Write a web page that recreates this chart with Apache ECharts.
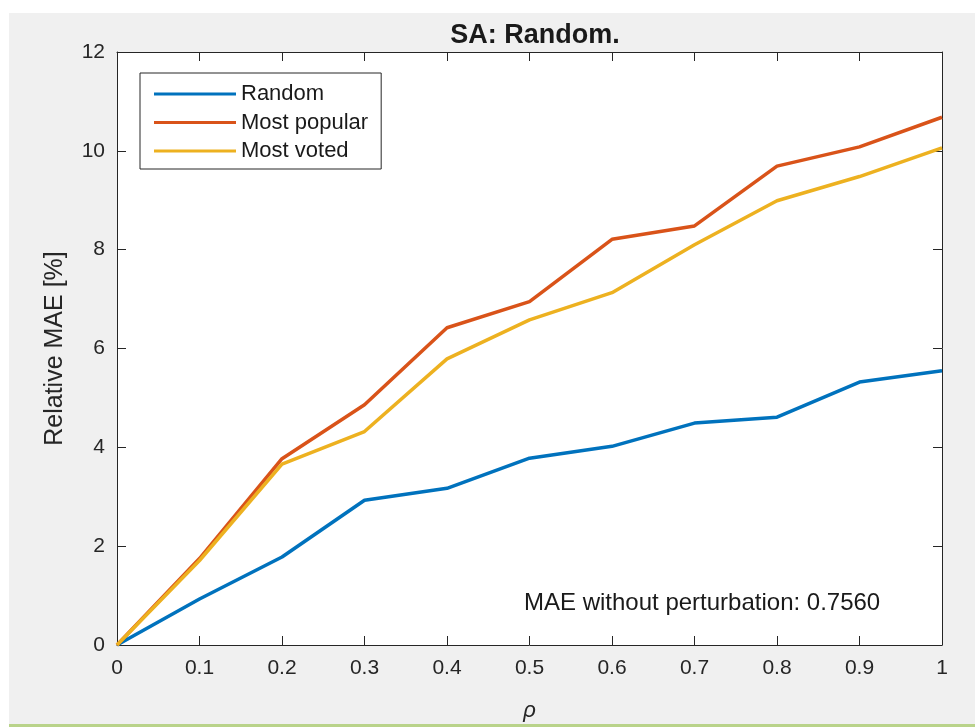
<!DOCTYPE html>
<html>
<head>
<meta charset="utf-8">
<script src="https://cdn.jsdelivr.net/npm/echarts@6/dist/echarts.min.js"></script>
<style>
  html, body { margin: 0; padding: 0; background: #ffffff; }
  #chart { width: 975px; height: 727px; }
</style>
</head>
<body>
<div id="chart"></div>
<script>
// Perturbation ratio rho
const rho = [0, 0.1, 0.2, 0.3, 0.4, 0.5, 0.6, 0.7, 0.8, 0.9, 1.0];

// Relative MAE [%] for each attack strategy
const randomMAE      = [0, 0.93, 1.78, 2.93, 3.17, 3.78, 4.02, 4.49, 4.61, 5.32, 5.55];
const mostPopularMAE = [0, 1.75, 3.77, 4.86, 6.42, 6.95, 8.21, 8.48, 9.69, 10.08, 10.68];
const mostVotedMAE   = [0, 1.71, 3.66, 4.32, 5.79, 6.58, 7.13, 8.10, 8.99, 9.48, 10.06];

const seriesNames = ['Random', 'Most popular', 'Most voted'];
const seriesColors = ['#0072BD', '#D95319', '#EDB120'];
const xTickLabels = ['0', '0.1', '0.2', '0.3', '0.4', '0.5', '0.6', '0.7', '0.8', '0.9', '1'];
const yTickLabels = ['0', '2', '4', '6', '8', '10', '12'];

const baselineNote = 'MAE without perturbation: 0.7560';

const pairs = (ys) => rho.map((x, i) => [x, ys[i]]);
const FONT = '"Liberation Sans", Arial, sans-serif';
const INK = '#262626';

const chart = echarts.init(document.getElementById('chart'), null, { renderer: 'canvas' });

// Box-style axes: every side gets a line and inward ticks
const axisCommon = {
  axisLine: { show: true, onZero: false, lineStyle: { color: INK, width: 1 } },
  axisTick: { show: true, inside: true, length: 9, lineStyle: { color: INK, width: 1 } },
  splitLine: { show: false }
};

chart.setOption({
  backgroundColor: 'transparent',
  animation: false,
  graphic: [
    { type: 'rect', z: -10, shape: { x: 9, y: 13, width: 966, height: 712 }, style: { fill: '#f0f0f0' } },
    { type: 'rect', z: -10, shape: { x: 9, y: 724, width: 966, height: 3 }, style: { fill: '#b9d38a' } },
    {
      type: 'text', z: 10, left: 524, top: 591,
      style: { text: baselineNote, font: '24px ' + FONT, fill: '#1a1a1a' }
    }
  ],
  title: {
    text: 'SA: Random.',
    left: 530, top: 17, textAlign: 'center',
    textStyle: { fontFamily: FONT, fontSize: 27, fontWeight: 'bold', color: '#1a1a1a' }
  },
  legend: {
    data: seriesNames,
    orient: 'vertical',
    left: 140, top: 73,
    padding: [9, 13, 6, 14],
    itemWidth: 82, itemHeight: 3,
    itemGap: 4.5,
    icon: 'rect',
    backgroundColor: '#ffffff',
    borderColor: INK, borderWidth: 1,
    textStyle: { fontFamily: FONT, fontSize: 22, color: '#1a1a1a', lineHeight: 24 }
  },
  grid: {
    left: 117, right: 33, top: 52, bottom: 80, containLabel: false,
    show: true, backgroundColor: '#ffffff', borderWidth: 0
  },
  xAxis: [
    Object.assign({}, axisCommon, {
      type: 'value', min: 0, max: 1, interval: 0.1, position: 'bottom',
      name: 'ρ', nameLocation: 'middle', nameGap: 55,
      nameTextStyle: { fontFamily: FONT, fontSize: 22, fontStyle: 'italic', color: INK },
      axisLabel: {
        fontFamily: FONT, fontSize: 21, color: INK, margin: 13,
        formatter: (v) => xTickLabels[Math.round(v * 10)]
      }
    }),
    Object.assign({}, axisCommon, {
      type: 'value', min: 0, max: 1, interval: 0.1, position: 'top',
      axisLabel: { show: false }
    })
  ],
  yAxis: [
    Object.assign({}, axisCommon, {
      type: 'value', min: 0, max: 12, interval: 2, position: 'left',
      name: 'Relative MAE [%]', nameLocation: 'middle', nameGap: 49,
      nameTextStyle: { fontFamily: FONT, fontSize: 25, color: INK },
      axisLabel: {
        fontFamily: FONT, fontSize: 21, color: INK, margin: 12,
        formatter: (v) => yTickLabels[Math.round(v / 2)]
      }
    }),
    Object.assign({}, axisCommon, {
      type: 'value', min: 0, max: 12, interval: 2, position: 'right',
      axisLabel: { show: false }
    })
  ],
  series: [randomMAE, mostPopularMAE, mostVotedMAE].map((ys, i) => ({
    name: seriesNames[i],
    type: 'line',
    data: pairs(ys),
    symbol: 'none',
    color: seriesColors[i],
    lineStyle: { width: 3.5, color: seriesColors[i] },
    itemStyle: { color: seriesColors[i] },
    clip: false
  }))
});
</script>
</body>
</html>
